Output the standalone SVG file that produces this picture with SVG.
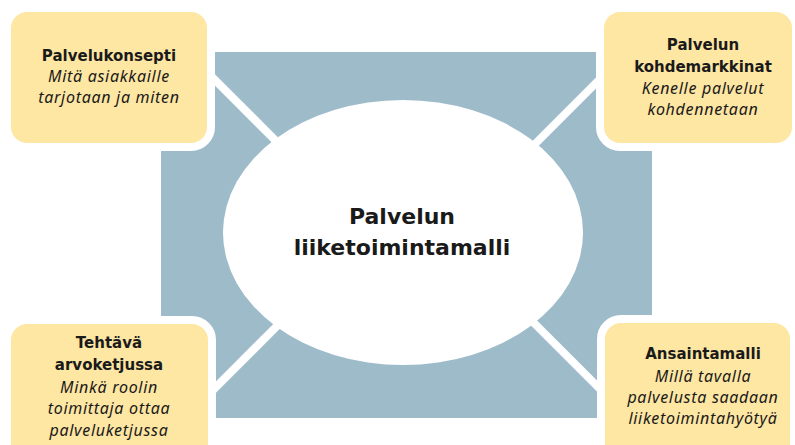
<svg xmlns="http://www.w3.org/2000/svg" width="795" height="445" viewBox="0 0 795 445">
<style>
.bg{fill:#9ebbca}
.conn{stroke:#ffffff;stroke-width:8;fill:none}
.box{fill:#fee6a3;stroke:#ffffff;stroke-width:16;paint-order:stroke}
.h{font-family:"DejaVu Sans",sans-serif;font-weight:bold;font-size:15px;fill:#1a1a1a;text-anchor:middle}
.s{font-family:"Noto Sans",sans-serif;font-style:italic;font-size:16px;letter-spacing:0.7px;fill:#1a1a1a;text-anchor:middle}
.c{font-family:"DejaVu Sans",sans-serif;font-weight:bold;font-size:22px;fill:#1a1a1a;text-anchor:middle}
</style>
<rect x="0" y="0" width="795" height="445" fill="#ffffff"/>
<rect class="bg" x="161" y="52" width="491" height="366"/>
<g id="connectors">
<line class="conn" x1="180" y1="45" x2="300" y2="165"/>
<line class="conn" x1="634" y1="45" x2="514" y2="165"/>
<line class="conn" x1="180" y1="423" x2="300" y2="303"/>
<line class="conn" x1="634" y1="423" x2="514" y2="303"/>
</g>
<g id="center">
<ellipse cx="403" cy="232.5" rx="180" ry="132.5" fill="#ffffff"/>
<text class="c" x="402" y="224">Palvelun</text>
<text class="c" x="402" y="255">liiketoimintamalli</text>
</g>
<g id="palvelukonsepti">
<rect class="box" x="11" y="12" width="196" height="131" rx="16"/>
<text class="h" x="109" y="61">Palvelukonsepti</text>
<text class="s" x="109" y="82">Mitä asiakkaille</text>
<text class="s" x="109" y="103">tarjotaan ja miten</text>
</g>
<g id="kohdemarkkinat">
<rect class="box" x="604" y="12" width="188" height="131" rx="16"/>
<text class="h" x="703" y="50">Palvelun</text>
<text class="h" x="703" y="72">kohdemarkkinat</text>
<text class="s" x="703" y="94">Kenelle palvelut</text>
<text class="s" x="703" y="115">kohdennetaan</text>
</g>
<g id="arvoketju">
<rect class="box" x="11" y="324" width="197" height="140" rx="16"/>
<text class="h" x="109" y="348">Tehtävä</text>
<text class="h" x="109" y="370">arvoketjussa</text>
<text class="s" x="109" y="393">Minkä roolin</text>
<text class="s" x="109" y="414">toimittaja ottaa</text>
<text class="s" x="109" y="436">palveluketjussa</text>
</g>
<g id="ansaintamalli">
<rect class="box" x="605" y="323" width="185" height="140" rx="16"/>
<text class="h" x="703" y="359">Ansaintamalli</text>
<text class="s" x="703" y="382">Millä tavalla</text>
<text class="s" x="703" y="403">palvelusta saadaan</text>
<text class="s" x="703" y="424">liiketoimintahyötyä</text>
</g>
</svg>
